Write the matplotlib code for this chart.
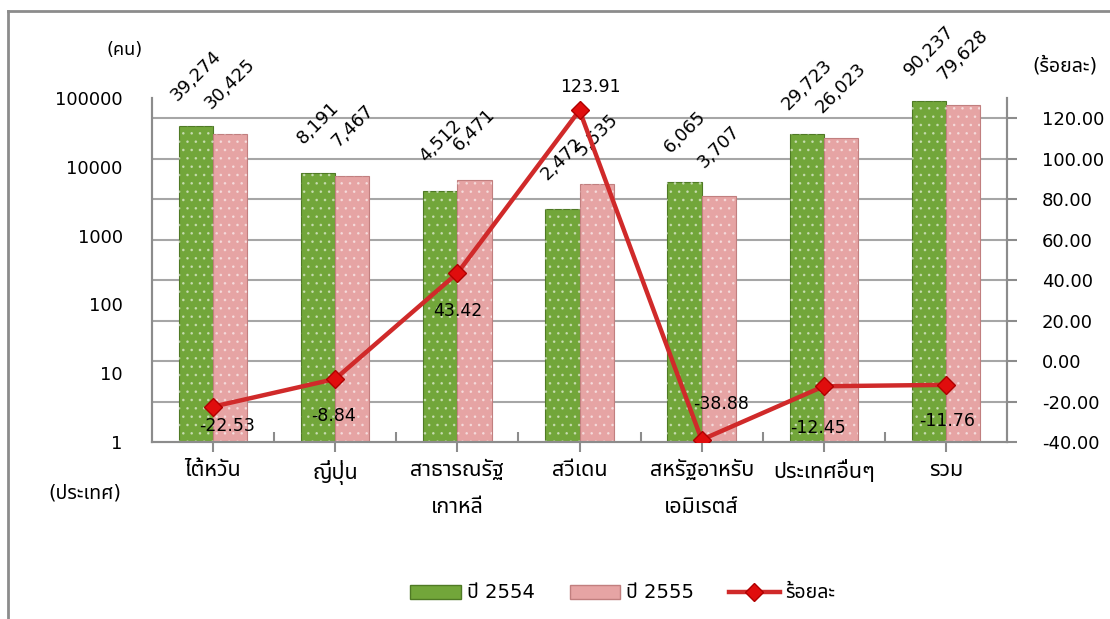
import numpy as np
import matplotlib
matplotlib.use("Agg")
import matplotlib.pyplot as plt
from matplotlib import font_manager
from matplotlib.patches import Patch
from matplotlib.lines import Line2D
from matplotlib.transforms import blended_transform_factory
from matplotlib.ticker import FixedLocator, FuncFormatter, NullLocator

# ---------------- data ----------------
categories = ['ไต้หวัน', 'ญี่ปุ่น', 'สาธารณรัฐ\nเกาหลี', 'สวีเดน',
              'สหรัฐอาหรับ\nเอมิเรตส์', 'ประเทศอื่นๆ', 'รวม']
y2554 = [39274, 8191, 4512, 2472, 6065, 29723, 90237]
y2555 = [30425, 7467, 6471, 5535, 3707, 26023, 79628]
pct = [-22.53, -8.84, 43.42, 123.91, -38.88, -12.45, -11.76]
series_names = ['ปี 2554', 'ปี 2555', 'ร้อยละ']
left_ticks = [1, 10, 100, 1000, 10000, 100000]
right_ticks = [-40, -20, 0, 20, 40, 60, 80, 100, 120]

# label offsets for percent labels (points) - style only
pct_label_offsets = [(10, -14), (-1, -27), (0, -27), (8, 17), (14, 26), (-4, -30), (1, -26)]

# ---------------- fonts ----------------
names = {f.name for f in font_manager.fontManager.ttflist}
thai_pref = ['Noto Sans Thai', 'Noto Sans Thai UI', 'Sarabun', 'Niramit', 'Prompt', 'Kanit',
             'Trirong', 'Unifont']
thai = next((n for n in thai_pref if n in names), 'DejaVu Sans')
fam = ['DejaVu Sans', thai]
plt.rcParams['font.family'] = fam
plt.rcParams['hatch.linewidth'] = 0.7

GREEN = '#72a63a'
GREEN_E = '#4f7a25'
PINK = '#e6a4a4'
PINK_E = '#c17f7f'
RED = '#d02a2a'
GRID = '#a6a6a6'
SPINE = '#8c8c8c'

W, H = 1110, 619
fig = plt.figure(figsize=(W / 100, H / 100), dpi=100)
ax = fig.add_axes([152 / W, 1 - 442 / H, (1007 - 152) / W, (442 - 98) / H])
ax2 = ax.twinx()

x = np.arange(len(categories))
bw = 0.28
ax.set_yscale('log')
ax.set_ylim(1, 100000)
ax.set_xlim(-0.5, len(categories) - 0.5)
ax2.set_ylim(-40, 130)

# gridlines (behind bars) at secondary axis values
trans = blended_transform_factory(ax.transAxes, ax2.transData)
for v in right_ticks[1:]:
    ax.plot([0, 1], [v, v], transform=trans, color=GRID, lw=1.5, zorder=0.5)

# bars
ax.bar(x - bw / 2, y2554, bw, color=GREEN, edgecolor=GREEN_E, lw=0.8, zorder=2)
ax.bar(x + bw / 2, y2555, bw, color=PINK, edgecolor=PINK_E, lw=0.8, zorder=2)
ax.bar(x - bw / 2, y2554, bw, facecolor='none', edgecolor=(1, 1, 1, 0.45), hatch='..', lw=0, zorder=3)
ax.bar(x + bw / 2, y2555, bw, facecolor='none', edgecolor=(1, 1, 1, 0.45), hatch='..', lw=0, zorder=3)

# bar value labels
for xs, vals in ((x - bw / 2, y2554), (x + bw / 2, y2555)):
    for xi, v in zip(xs, vals):
        ax.annotate(f'{v:,}', (xi, v), xytext=(0, 36), textcoords='offset points',
                    ha='center', va='center', rotation=45, fontsize=13, zorder=6)

# line
ax2.plot(x, pct, color=RED, lw=3.2, marker='D', markersize=9,
         markerfacecolor='#e00d0d', markeredgecolor='#b00000', zorder=5)
for xi, v, (dx, dy) in zip(x, pct, pct_label_offsets):
    ax2.annotate(f'{v:.2f}', (xi, v), xytext=(dx, dy), textcoords='offset points',
                 ha='center', va='center', fontsize=12.5, zorder=6)

# axes styling
for a in (ax, ax2):
    a.spines['top'].set_visible(False)
    for s in ('left', 'right', 'bottom'):
        a.spines[s].set_color(SPINE)
        a.spines[s].set_linewidth(1.5)

ax.yaxis.set_major_locator(FixedLocator(left_ticks))
ax.yaxis.set_minor_locator(NullLocator())
ax.yaxis.set_major_formatter(FuncFormatter(lambda v, p: f'{int(round(v))}'))
ax.tick_params(axis='y', which='both', length=0, pad=21, labelsize=13)

ax2.yaxis.set_major_locator(FixedLocator(right_ticks))
ax2.yaxis.set_major_formatter(FuncFormatter(lambda v, p: f'{v:.2f}'))
ax2.tick_params(axis='y', direction='out', length=7, width=1.5, color=SPINE, pad=18, labelsize=13)

ax.set_xticks(x)
ax.set_xticklabels(categories, fontsize=15.5, linespacing=2.0, family=[thai, 'DejaVu Sans'])
ax.xaxis.set_minor_locator(FixedLocator(np.arange(len(categories) - 1) + 0.5))
ax.tick_params(axis='x', which='major', direction='out', length=7, width=1.5, color=SPINE, pad=6)
ax.tick_params(axis='x', which='minor', direction='in', length=7, width=1.5, color=SPINE)

# unit labels
fig.text(125 / W, 1 - 50 / H, '(คน)', ha='center', va='center', fontsize=13)
fig.text(1065 / W, 1 - 66 / H, '(ร้อยละ)', ha='center', va='center', fontsize=14)
fig.text(85 / W, 1 - 493 / H, '(ประเทศ)', ha='center', va='center', fontsize=14)

# legend
handles = [Patch(facecolor=GREEN, edgecolor=GREEN_E),
           Patch(facecolor=PINK, edgecolor=PINK_E),
           Line2D([], [], color=RED, lw=3.2, marker='D', markersize=9,
                  markerfacecolor='#e00d0d', markeredgecolor='#b00000')]
fig.legend(handles, series_names, loc='center', bbox_to_anchor=(623 / W, 1 - 593 / H),
           ncol=3, frameon=False, fontsize=14, handlelength=2.6, handleheight=0.7,
           handletextpad=0.3, columnspacing=1.8)

# chart-area border (top and left)
fig.add_artist(Line2D([8 / W, 8 / W], [0, 1 - 11 / H], color=SPINE, lw=2, transform=fig.transFigure))
fig.add_artist(Line2D([8 / W, 1], [1 - 11 / H, 1 - 11 / H], color=SPINE, lw=2, transform=fig.transFigure))

fig.savefig('out.png', dpi=100)
